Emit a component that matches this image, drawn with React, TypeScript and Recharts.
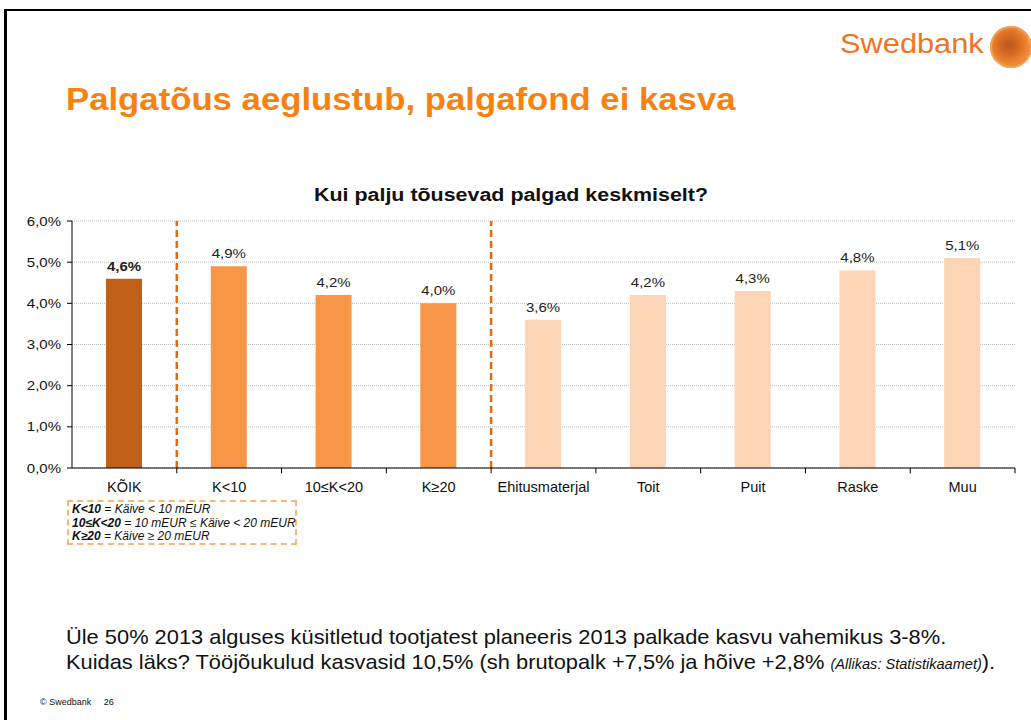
import React from 'react';
import {
  BarChart,
  Bar,
  Cell,
  XAxis,
  YAxis,
  CartesianGrid,
  ReferenceLine,
  LabelList,
} from 'recharts';

// Chart values
const categories = ['KÕIK', 'K<10', '10≤K<20', 'K≥20', 'Ehitusmaterjal', 'Toit', 'Puit', 'Raske', 'Muu'];
const values = [4.6, 4.9, 4.2, 4.0, 3.6, 4.2, 4.3, 4.8, 5.1];
const groups = ['all', 'size', 'size', 'size', 'sector', 'sector', 'sector', 'sector', 'sector'];
const yTicks = [0, 1, 2, 3, 4, 5, 6];
const boundaryTicks = [1, 2, 3, 4, 5, 6, 7, 8, 9];
const dividers = [1, 4];

const groupColors: Record<string, string> = {
  all: '#BF6118',
  size: '#F79646',
  sector: '#FBD5B5',
};

const FONT = '"Liberation Sans", Arial, sans-serif';
// the slide text is a bit wider than Arial, stretch it horizontally
const STRETCH = 1.2;

const chartData = categories.map((name, i) => ({
  name,
  value: values[i],
  group: groups[i],
  pos: i + 0.5,
}));

const pct = (v: number) => `${v.toFixed(1).replace('.', ',')}%`;

const BarValue = (props: any) => {
  const { x, y, width, value, index } = props;
  return (
    <text
      transform={`translate(${x + width / 2},${y - 8}) scale(${STRETCH},1)`}
      textAnchor="middle"
      fontSize={12.5}
      fontFamily={FONT}
      fontWeight={index === 0 ? 'bold' : 'normal'}
      fill="#222"
    >
      {pct(value)}
    </text>
  );
};

const CategoryTick = (props: any) => {
  const { x, y, payload } = props;
  return (
    <text x={x} y={y + 16} textAnchor="middle" fontSize={14.5} fontFamily={FONT} fill="#111">
      {payload.value}
    </text>
  );
};

const PercentTick = (props: any) => {
  const { x, y, payload } = props;
  return (
    <text
      transform={`translate(${x - 4},${y + 4.5}) scale(${STRETCH},1)`}
      textAnchor="end"
      fontSize={12.5}
      fontFamily={FONT}
      fill="#111"
    >
      {pct(payload.value)}
    </text>
  );
};

const App: React.FC = () => {
  return (
    <div
      style={{
        position: 'absolute',
        left: 0,
        top: 0,
        width: 1031,
        height: 720,
        background: '#fff',
        overflow: 'hidden',
        fontFamily: FONT,
      }}
    >
      {/* slide frame */}
      <div
        style={{
          position: 'absolute',
          left: 4,
          top: 9,
          width: 1040,
          height: 720,
          borderLeft: '3px solid #000',
          borderTop: '2px solid #000',
        }}
      />

      {/* logo */}
      <div
        style={{
          position: 'absolute',
          left: 840,
          top: 29,
          fontSize: 27,
          color: '#EF7522',
          transform: 'scaleX(1.14)',
          transformOrigin: 'left top',
          whiteSpace: 'nowrap',
        }}
      >
        Swedbank
      </div>
      <div
        style={{
          position: 'absolute',
          left: 990,
          top: 26,
          width: 42,
          height: 42,
          borderRadius: '50%',
          background: 'radial-gradient(circle at 45% 45%, #B8561C 0%, #D86A22 30%, #F08A35 60%, #E9761F 100%)',
          boxShadow: 'inset 0 0 0 2px #F2A25A',
        }}
      />

      <div
        style={{
          position: 'absolute',
          left: 66,
          top: 82,
          fontSize: 31,
          fontWeight: 'bold',
          color: '#F7820F',
          whiteSpace: 'nowrap',
          transform: 'scaleX(1.12)',
          transformOrigin: 'left top',
        }}
      >
        Palgatõus aeglustub, palgafond ei kasva
      </div>

      <div
        style={{
          position: 'absolute',
          left: 0,
          width: 1022,
          top: 185,
          textAlign: 'center',
          fontSize: 18,
          fontWeight: 'bold',
          color: '#111',
          transform: 'scaleX(1.19)',
          transformOrigin: '511px 0',
          whiteSpace: 'nowrap',
        }}
      >
        Kui palju tõusevad palgad keskmiselt?
      </div>

      <div style={{ position: 'absolute', left: 0, top: 190 }}>
        <BarChart
          width={1031}
          height={330}
          data={chartData}
          margin={{ top: 31, right: 16, bottom: 22, left: 0 }}
          barCategoryGap={0}
        >
          <CartesianGrid vertical={false} stroke="#BFBFBF" strokeDasharray="1 1" />
          <XAxis
            xAxisId="b"
            type="number"
            dataKey="pos"
            domain={[0, 9]}
            allowDataOverflow
            hide
          />
          <XAxis
            dataKey="name"
            tickLine={false}
            axisLine={{ stroke: '#000' }}
            tick={<CategoryTick />}
            interval={0}
            height={30}
          />
          <YAxis
            domain={[0, 6]}
            ticks={yTicks}
            width={72}
            axisLine={{ stroke: '#000' }}
            tickLine={{ stroke: '#000' }}
            tickSize={5}
            tick={<PercentTick />}
          />
          {/* tick marks sit on the category boundaries */}
          {boundaryTicks.map((t) => (
            <ReferenceLine
              key={`t${t}`}
              xAxisId="b"
              segment={[{ x: t, y: 0 }, { x: t, y: -0.13 }]}
              ifOverflow="visible"
              stroke="#000"
            />
          ))}
          {dividers.map((d) => (
            <ReferenceLine
              key={d}
              xAxisId="b"
              x={d}
              stroke="#E46C0A"
              strokeWidth={2.5}
              strokeDasharray="7 4"
            />
          ))}
          <Bar dataKey="value" barSize={36} isAnimationActive={false}>
            {chartData.map((d) => (
              <Cell key={d.name} fill={groupColors[d.group]} />
            ))}
            <LabelList dataKey="value" content={<BarValue />} />
          </Bar>
        </BarChart>
      </div>

      {/* abbreviation legend */}
      <div
        style={{
          position: 'absolute',
          left: 67,
          top: 500,
          width: 230,
          height: 45,
          boxSizing: 'border-box',
          border: '2px dashed #FAB77A',
          fontSize: 12,
          fontStyle: 'italic',
          lineHeight: '13.5px',
          padding: '1px 0 0 3px',
          color: '#111',
          whiteSpace: 'nowrap',
        }}
      >
        <div><b>K&lt;10</b> = Käive &lt; 10 mEUR</div>
        <div><b>10≤K&lt;20</b> = 10 mEUR ≤ Käive &lt; 20 mEUR</div>
        <div><b>K≥20</b> = Käive ≥ 20 mEUR</div>
      </div>

      <div
        style={{
          position: 'absolute',
          left: 66,
          top: 624,
          fontSize: 21,
          lineHeight: '25px',
          color: '#111',
          whiteSpace: 'nowrap',
          transform: 'scaleX(1.04)',
          transformOrigin: 'left top',
        }}
      >
        <div>Üle 50% 2013 alguses küsitletud tootjatest planeeris 2013 palkade kasvu vahemikus 3-8%.</div>
        <div>
          Kuidas läks? Tööjõukulud kasvasid 10,5% (sh brutopalk +7,5% ja hõive +2,8%{' '}
          <span style={{ fontSize: 14, fontStyle: 'italic' }}>(Allikas: Statistikaamet)</span>).
        </div>
      </div>

      <div style={{ position: 'absolute', left: 40, top: 697, fontSize: 9, color: '#111' }}>
        © Swedbank&nbsp;&nbsp;&nbsp;&nbsp;&nbsp;26
      </div>
    </div>
  );
};

export default App;
